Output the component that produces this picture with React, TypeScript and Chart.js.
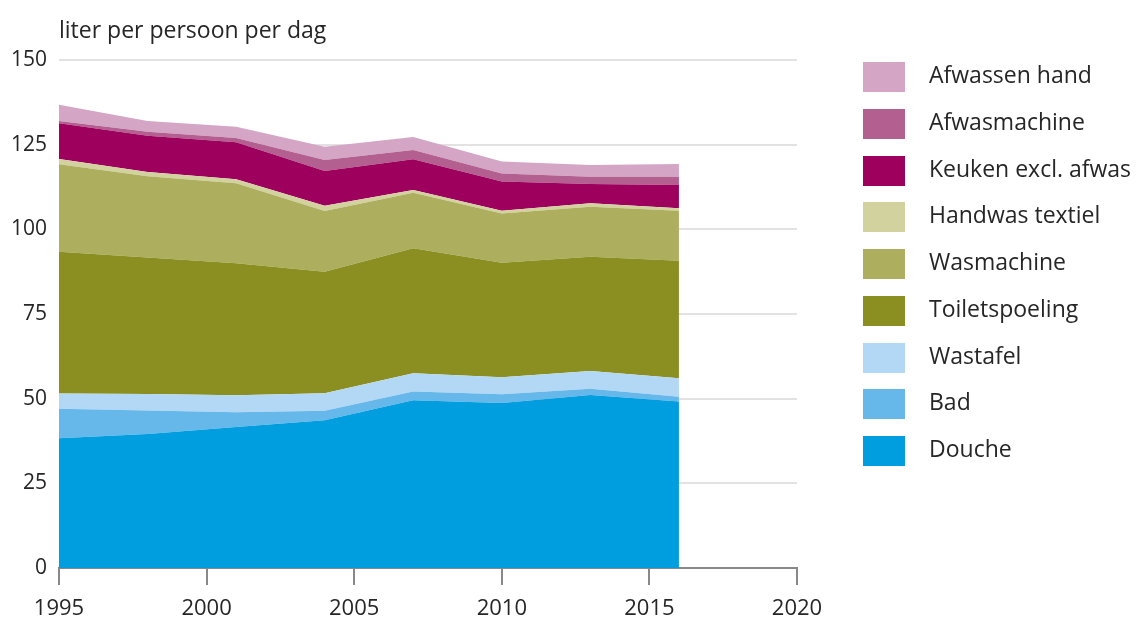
import React, { useEffect, useRef } from "react";
import { Chart, registerables } from "chart.js";

Chart.register(...registerables);

const years = [1995, 1998, 2001, 2004, 2007, 2010, 2013, 2016];

const douche = [38.3, 39.6, 41.6, 43.6, 49.5, 48.7, 51.1, 49.2];
const bad = [8.7, 6.9, 4.4, 2.8, 2.6, 2.6, 1.8, 1.4];
const wastafel = [4.5, 4.9, 5.0, 5.2, 5.4, 5.0, 5.3, 5.4];
const toiletspoeling = [41.9, 40.3, 39.0, 35.9, 36.9, 33.8, 33.7, 34.7];
const wasmachine = [25.8, 24.0, 23.6, 17.9, 16.4, 14.6, 14.8, 14.8];
const handwasTextiel = [1.6, 1.2, 1.2, 1.6, 0.8, 0.8, 1.0, 0.7];
const keuken = [10.5, 10.7, 10.9, 10.2, 9.1, 8.6, 5.7, 6.9];
const afwasmachine = [0.7, 1.2, 1.3, 3.3, 2.7, 2.4, 2.1, 2.4];
const afwassenHand = [4.8, 3.2, 3.3, 3.9, 3.9, 3.5, 3.5, 3.8];

const xTicks = [1995, 2000, 2005, 2010, 2015, 2020];
const yTicks = [0, 25, 50, 75, 100, 125, 150];

const yTitle = "liter per persoon per dag";

const series = [
  { label: "Douche", data: douche, color: "#009ddf" },
  { label: "Bad", data: bad, color: "#66b8ea" },
  { label: "Wastafel", data: wastafel, color: "#b3d8f5" },
  { label: "Toiletspoeling", data: toiletspoeling, color: "#8b8f22" },
  { label: "Wasmachine", data: wasmachine, color: "#aeae5f" },
  { label: "Handwas textiel", data: handwasTextiel, color: "#d2d29e" },
  { label: "Keuken excl. afwas", data: keuken, color: "#9e005e" },
  { label: "Afwasmachine", data: afwasmachine, color: "#b35f8f" },
  { label: "Afwassen hand", data: afwassenHand, color: "#d4a5c5" },
];

const FONT = "'Open Sans', 'Noto Sans', sans-serif";
const TEXT = "#262626";

export default function App() {
  const ref = useRef<HTMLCanvasElement | null>(null);

  useEffect(() => {
    if (!ref.current) return;
    const titlePlugin = {
      id: "yTitle",
      afterDraw(chart: any) {
        const { ctx, chartArea } = chart;
        ctx.save();
        ctx.font = `23px ${FONT}`;
        ctx.fillStyle = TEXT;
        ctx.textAlign = "left";
        ctx.textBaseline = "middle";
        ctx.fillText(yTitle, chartArea.left, 31);
        ctx.restore();
      },
    };
    const chart = new Chart(ref.current, {
      type: "line",
      data: {
        datasets: series.map((s, i) => ({
          label: s.label,
          data: years.map((y, j) => ({ x: y, y: s.data[j] })),
          backgroundColor: s.color,
          borderColor: s.color,
          borderWidth: 0,
          pointRadius: 0,
          fill: i === 0 ? "origin" : "-1",
          tension: 0,
        })),
      },
      options: {
        responsive: false,
        animation: false,
        layout: { padding: { top: 60, right: 342, left: 0, bottom: 0 } },
        plugins: {
          legend: { display: false },
          tooltip: { enabled: false },
          title: { display: false },
        },
        scales: {
          x: {
            type: "linear",
            min: 1995,
            max: 2020,
            afterFit(scale: any) {
              scale.height = 54;
            },
            afterBuildTicks(scale: any) {
              scale.ticks = xTicks.map((v) => ({ value: v }));
            },
            ticks: {
              padding: 11,
              font: { family: FONT, size: 22 },
              color: TEXT,
              callback: (v: any) => String(v),
            },
            grid: {
              drawOnChartArea: false,
              drawTicks: true,
              tickLength: 17,
              color: "#888888",
              lineWidth: 2,
            },
            border: { display: true, color: "#888888", width: 2 },
          },
          y: {
            stacked: true,
            min: 0,
            max: 150,
            afterFit(scale: any) {
              scale.width = 59;
            },
            afterBuildTicks(scale: any) {
              scale.ticks = yTicks.map((v) => ({ value: v }));
            },
            ticks: {
              padding: 12,
              font: { family: FONT, size: 21 },
              color: TEXT,
              callback: (v: any) => String(v),
            },
            grid: {
              drawTicks: false,
              color: "#e2e2e2",
              lineWidth: 2,
            },
            border: { display: false },
          },
        },
      },
      plugins: [titlePlugin],
    });
    return () => chart.destroy();
  }, []);

  const legendItems = [...series].reverse();

  return (
    <div style={{ position: "fixed", left: 0, top: 0, width: 1139, height: 622, background: "#fff" }}>
      <canvas ref={ref} width={1139} height={622} style={{ position: "absolute", left: 0, top: 0 }} />
      {legendItems.map((s, i) => (
        <div
          key={s.label}
          style={{
            position: "absolute",
            left: 863,
            top: 62 + i * 46.75,
            height: 30,
            display: "flex",
            alignItems: "center",
            fontFamily: FONT,
            fontSize: 23,
            color: TEXT,
            whiteSpace: "nowrap",
          }}
        >
          <span style={{ display: "inline-block", width: 42, height: 30, background: s.color, marginRight: 24 }} />
          <span style={{ position: "relative", top: -3 }}>{s.label}</span>
        </div>
      ))}
    </div>
  );
}
